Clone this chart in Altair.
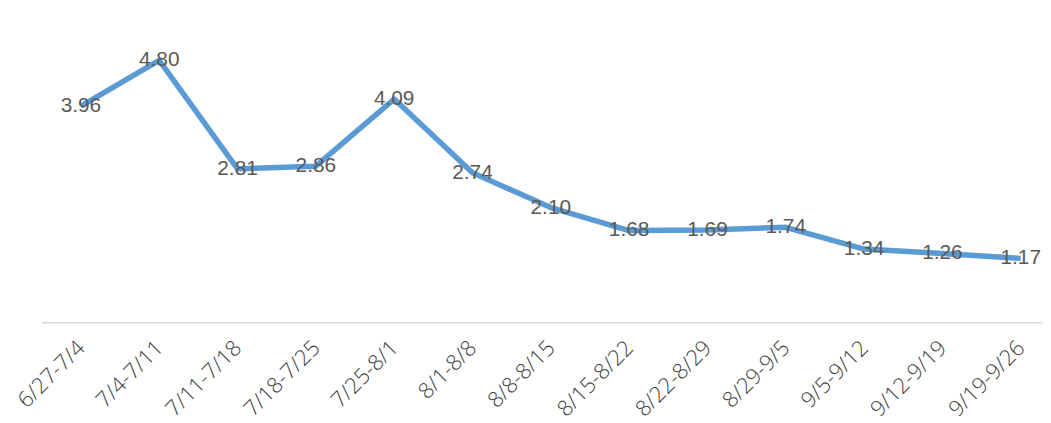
import altair as alt
import pandas as pd

weeks = ["6/27-7/4", "7/4-7/11", "7/11-7/18", "7/18-7/25", "7/25-8/1", "8/1-8/8",
         "8/8-8/15", "8/15-8/22", "8/22-8/29", "8/29-9/5", "9/5-9/12", "9/12-9/19",
         "9/19-9/26"]
values = [3.96, 4.80, 2.81, 2.86, 4.09, 2.74, 2.10, 1.68, 1.69, 1.74, 1.34, 1.26, 1.17]

df = pd.DataFrame({"week": weeks, "value": values})

x = alt.X("week:N", sort=weeks,
          scale=alt.Scale(paddingInner=0, paddingOuter=0, range=[0, 1026]),
          axis=alt.Axis(title=None, labelAngle=-45, labelAlign="right",
                        labelBaseline="middle", labelPadding=22, ticks=False,
                        domainColor="#D9D9D9", domainWidth=1.5,
                        labelColor="#404040", labelFontSize=22,
                        labelFont="Open Sans", labelFontWeight=300, grid=False))
y = alt.Y("value:Q", scale=alt.Scale(domain=[0, 5.73], nice=False, zero=True),
          axis=None)

base = alt.Chart(df).encode(x=x, y=y)
line = base.mark_line(color="#5B9BD5", strokeWidth=5.5, strokeJoin="round")
labels = base.mark_text(fontSize=21, font="Liberation Sans", color="#595959",
                        align="center", baseline="middle", dy=0).encode(
    text=alt.Text("value:Q", format=".2f"))

chart = (line + labels).properties(
    width=1009, height=315,
    padding={"left": 34, "top": 0, "right": 0, "bottom": 100},
    autosize=alt.AutoSizeParams(type="none"),
    background="white",
).configure_view(stroke=None)

chart.save("out.html", embed_options={"renderer": "svg", "actions": False})
